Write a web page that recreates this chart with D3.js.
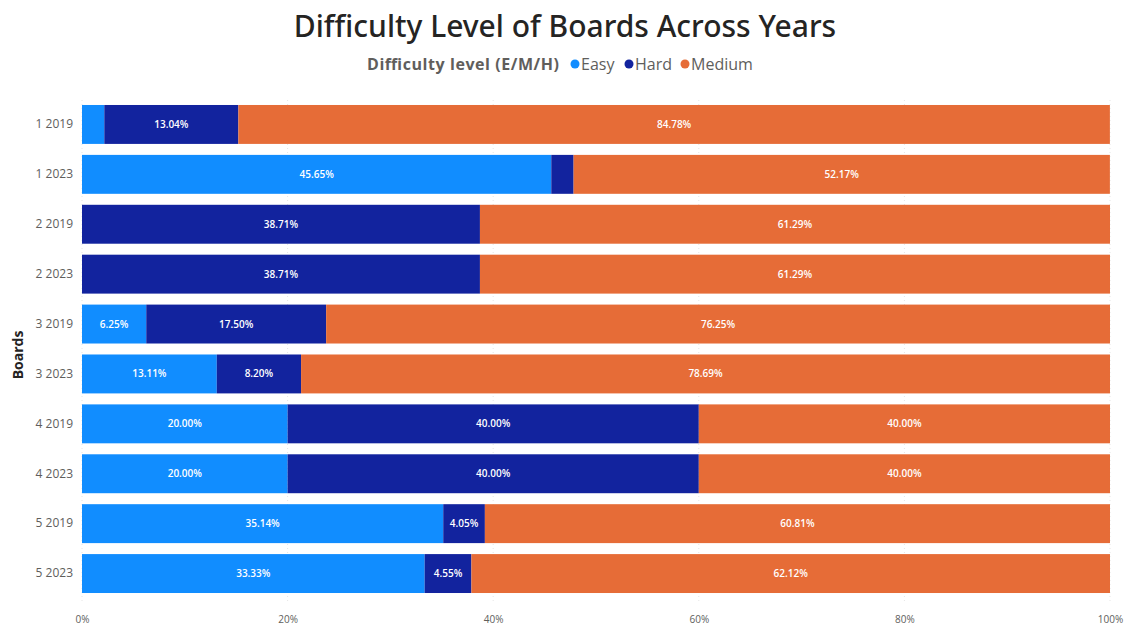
<!DOCTYPE html>
<html><head><meta charset="utf-8">
<script src="https://cdn.jsdelivr.net/npm/d3@7"></script>
<style>
body{margin:0;background:#fff;}
svg{display:block;font-family:"Open Sans","Noto Sans",sans-serif;}
</style></head>
<body>
<svg id="c" width="1128" height="628"></svg>
<script>
const categories = ["1 2019","1 2023","2 2019","2 2023","3 2019","3 2023","4 2019","4 2023","5 2019","5 2023"];
const seriesNames = ["Easy","Hard","Medium"];
const easy   = [2.17, 45.65, 0,     0,     6.25, 13.11, 20, 20, 35.14, 33.33];
const hard   = [13.04, 2.17, 38.71, 38.71, 17.50, 8.20, 40, 40, 4.05, 4.55];
const medium = [84.78, 52.17, 61.29, 61.29, 76.25, 78.69, 40, 40, 60.81, 62.12];
const tickValues = [0,20,40,60,80,100];
const colors = ["#118DFF","#12239E","#E66C37"];

const svg = d3.select("#c");
const m = {left:82, right:18, top:100, bottom:30};
const W = 1128, H = 628;

const rows = categories.map((c,i)=>({cat:c, Easy:easy[i], Hard:hard[i], Medium:medium[i]}));
const stack = d3.stack().keys(seriesNames)(rows);

const x = d3.scaleLinear().domain([0,100]).range([m.left, W - m.right]);
const y = d3.scaleBand().domain(categories).range([m.top, H - m.bottom]).paddingInner(0.22).paddingOuter(0.1);
const color = d3.scaleOrdinal().domain(seriesNames).range(colors);

// gridlines
svg.append("g").selectAll("line").data(tickValues).join("line")
  .attr("x1", d=>x(d)).attr("x2", d=>x(d))
  .attr("y1", m.top).attr("y2", H - m.bottom + 4)
  .attr("stroke","#E6E6E6").attr("stroke-dasharray","1,3");

// bars
const g = svg.append("g");
stack.forEach((s,si)=>{
  g.selectAll(null).data(s).join("rect")
    .attr("x", d=>x(d[0])).attr("width", d=>Math.max(0, x(d[1])-x(d[0])))
    .attr("y", d=>y(d.data.cat)).attr("height", y.bandwidth())
    .attr("fill", color(s.key));
  g.selectAll(null).data(s.filter(d=>d[1]-d[0] >= 4)).join("text")
    .attr("x", d=>(x(d[0])+x(d[1]))/2).attr("y", d=>y(d.data.cat)+y.bandwidth()/2)
    .attr("dy","0.35em").attr("text-anchor","middle")
    .attr("fill","#fff").attr("font-size",10).attr("font-weight",600)
    .text(d=>(d[1]-d[0]).toFixed(2)+"%");
});

// y axis
const ya = svg.append("g").attr("transform",`translate(${m.left-9},0)`)
  .call(d3.axisLeft(y).tickSize(0).tickPadding(0));
ya.select(".domain").remove();
ya.selectAll("text").attr("font-size",12).attr("fill","#605E5C").attr("font-family","'Open Sans',sans-serif");

// x axis
const xa = svg.append("g").attr("transform",`translate(0,${H-12})`)
  .call(d3.axisBottom(x).tickValues(tickValues).tickFormat(d=>d+"%").tickSize(0).tickPadding(0));
xa.select(".domain").remove();
xa.selectAll("text").attr("font-size",10).attr("fill","#605E5C").attr("font-family","'Open Sans',sans-serif");

// y title
svg.append("text").attr("transform","translate(23,355) rotate(-90)")
  .attr("text-anchor","middle").attr("font-size",14).attr("font-weight",700).attr("fill","#252423")
  .text("Boards");

// title
svg.append("text").attr("x",565).attr("y",37).attr("text-anchor","middle")
  .attr("font-size",30).attr("font-weight",500).attr("fill","#252423")
  .attr("font-family","'Noto Sans','Open Sans',sans-serif")
  .text("Difficulty Level of Boards Across Years");

// legend
const lg = svg.append("g").attr("font-size",16);
lg.append("text").attr("x",367).attr("y",70).attr("font-weight",700).attr("fill","#605E5C")
  .attr("textLength",192)
  .text("Difficulty level (E/M/H)");
const legX = [575, 629, 685];
seriesNames.forEach((n,i)=>{
  lg.append("circle").attr("cx",legX[i]).attr("cy",64).attr("r",4.5).attr("fill",colors[i]);
  lg.append("text").attr("x",legX[i]+6).attr("y",70).attr("fill","#605E5C").text(n);
});
</script>
</body></html>
